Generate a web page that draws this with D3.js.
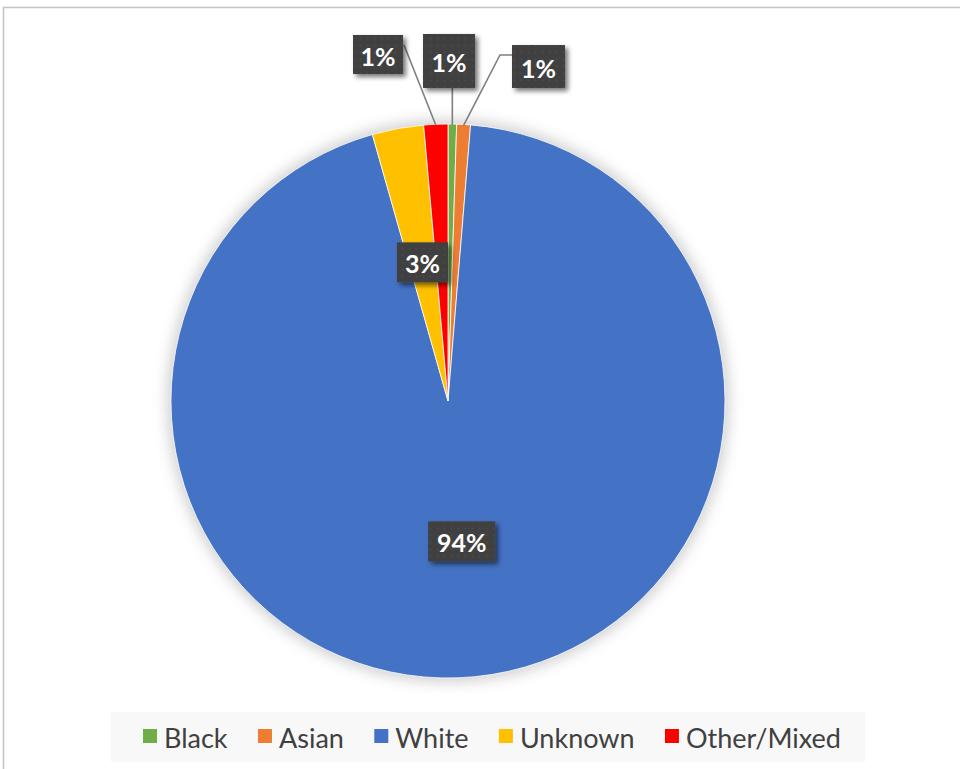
<!DOCTYPE html>
<html>
<head>
<meta charset="utf-8">
<script src="https://cdn.jsdelivr.net/npm/d3@7"></script>
<style>
  html, body { margin: 0; padding: 0; background: #ffffff; }
  svg { display: block; }
  text { font-family: "Lato", "Open Sans", sans-serif; }
</style>
</head>
<body>
<svg id="chart" width="960" height="769"></svg>
<script>
// Share of each group, in percent (clockwise from 12 o'clock)
const categories = ["Black", "Asian", "White", "Unknown", "Other/Mixed"];
const shares     = [0.5, 0.8, 94.3, 3.0, 1.4];
const colors     = ["#70AD47", "#ED7D31", "#4472C4", "#FFC000", "#FF0000"];

// Labels that sit outside the pie with a leader line: box centre and size
const calloutCategories = ["Other/Mixed", "Black", "Asian"];
const calloutCentres    = [[378, 54.5], [449, 61], [538.5, 66.5]];
const calloutSizes      = [[50, 39], [52, 54], [53, 43]];

const W = 960, H = 769;
const cx = 448, cy = 401, R = 277;

const svg = d3.select("#chart");
const defs = svg.append("defs");

// soft halo around the pie
const halo = defs.append("filter").attr("id", "halo")
  .attr("x", "-20%").attr("y", "-20%").attr("width", "140%").attr("height", "140%");
halo.append("feGaussianBlur").attr("stdDeviation", 7);

// drop shadow for the label boxes
const boxShadow = defs.append("filter").attr("id", "boxShadow")
  .attr("x", "-30%").attr("y", "-30%").attr("width", "170%").attr("height", "170%");
boxShadow.append("feGaussianBlur").attr("in", "SourceAlpha").attr("stdDeviation", 2.5).attr("result", "b");
boxShadow.append("feOffset").attr("in", "b").attr("dx", 3).attr("dy", 3).attr("result", "o");
boxShadow.append("feComponentTransfer").attr("in", "o").attr("result", "s")
  .append("feFuncA").attr("type", "linear").attr("slope", 0.55);
const merge = boxShadow.append("feMerge");
merge.append("feMergeNode").attr("in", "s");
merge.append("feMergeNode").attr("in", "SourceGraphic");

// faint dotted texture on label boxes
const dots = defs.append("pattern").attr("id", "dots")
  .attr("width", 7).attr("height", 7).attr("patternUnits", "userSpaceOnUse");
dots.append("rect").attr("width", 7).attr("height", 7).attr("fill", "#404040");
dots.append("circle").attr("cx", 3.5).attr("cy", 3.5).attr("r", 1).attr("fill", "#4c4c4c");

// chart area frame
svg.append("rect").attr("x", 3.5).attr("y", 7.5).attr("width", W + 20).attr("height", H + 20)
  .attr("fill", "#ffffff").attr("stroke", "#c4c4c4").attr("stroke-width", 1.5);

const data = categories.map((c, i) => ({ category: c, value: shares[i], color: colors[i] }));

const pie = d3.pie().value(d => d.value).sort(null);
const arcs = pie(data);
const arc = d3.arc().innerRadius(0).outerRadius(R);
const labelArc = d3.arc().innerRadius(141).outerRadius(141);

const g = svg.append("g").attr("transform", `translate(${cx},${cy})`);

// halo
g.append("circle").attr("r", R + 4).attr("fill", "#c4c4c4").attr("opacity", 0.8)
  .attr("filter", "url(#halo)");

g.selectAll("path.slice").data(arcs).join("path")
  .attr("class", "slice")
  .attr("d", arc)
  .attr("fill", d => d.data.color)
  .attr("stroke", "#ffffff")
  .attr("stroke-width", 0.8);

const fmt = v => Math.round(v) + "%";

function labelBox(parent, x, y, w, h, txt) {
  const lg = parent.append("g");
  lg.append("rect").attr("x", x - w / 2).attr("y", y - h / 2).attr("width", w).attr("height", h)
    .attr("fill", "url(#dots)").attr("filter", "url(#boxShadow)");
  lg.append("text").attr("x", x).attr("y", y + 1).attr("text-anchor", "middle")
    .attr("dominant-baseline", "central")
    .attr("fill", "#ffffff").attr("font-weight", "bold").attr("font-size", 25)
    .text(txt);
}

// point on the pie rim for a given angle (d3.pie angles: 0 at 12 o'clock, clockwise)
const rim = (a, r) => [cx + r * Math.sin(a), cy - r * Math.cos(a)];

const labelLayer = svg.append("g");

arcs.forEach(a => {
  const k = calloutCategories.indexOf(a.data.category);
  if (k >= 0) {
    const [bx, by] = calloutCentres[k];
    const [bw, bh] = calloutSizes[k];
    const mid = (a.startAngle + a.endAngle) / 2;
    const [ex, ey] = rim(mid, R - 1);
    let pts;
    if (bx - bw / 2 > ex + 20) {
      // box to the right: elbow leader entering the box's left side
      const ly = by - bh / 2 + 10;
      pts = [[bx - bw / 2, ly], [bx - bw / 2 - 12, ly], [ex, ey]];
    } else if (bx + bw / 2 < ex - 20) {
      // box to the left: leader from its top-right corner
      pts = [[bx + bw / 2 + 1, by - bh / 2 + 10], [ex, ey]];
    } else {
      // box above: straight down from its bottom edge
      pts = [[ex, by + bh / 2], [ex, ey]];
    }
    labelLayer.append("path")
      .attr("d", d3.line()(pts))
      .attr("fill", "none").attr("stroke", "#7f7f7f").attr("stroke-width", 1.6);
    labelBox(labelLayer, bx, by, bw, bh, fmt(a.data.value));
  } else {
    const [lx, ly] = labelArc.centroid(a);
    const txt = fmt(a.data.value);
    const w = txt.length > 2 ? 67 : 51;
    labelBox(labelLayer, cx + lx, cy + ly, w, 40, txt);
  }
});

// legend
const legendY = 737;
const legendLeft = 143, legendRight = 841;
svg.append("rect").attr("x", 111).attr("y", 712).attr("width", 754).attr("height", 50)
  .attr("fill", "#f8f8f8");

const legend = svg.append("g");
const items = legend.selectAll("g.item").data(data).join("g").attr("class", "item");
items.append("rect").attr("width", 14).attr("height", 14).attr("y", legendY - 8)
  .attr("fill", d => d.color);
items.append("text").attr("x", 21).attr("y", legendY).attr("dominant-baseline", "central")
  .attr("font-size", 27).attr("fill", "#404040").text(d => d.category);

let widths = [];
items.each(function () { widths.push(d3.select(this).select("text").node().getComputedTextLength() + 21); });
const gap = (legendRight - legendLeft - d3.sum(widths)) / (widths.length - 1);
let x0 = legendLeft;
items.attr("transform", (d, i) => {
  const t = `translate(${x0},0)`;
  x0 += widths[i] + gap;
  return t;
});
</script>
</body>
</html>
